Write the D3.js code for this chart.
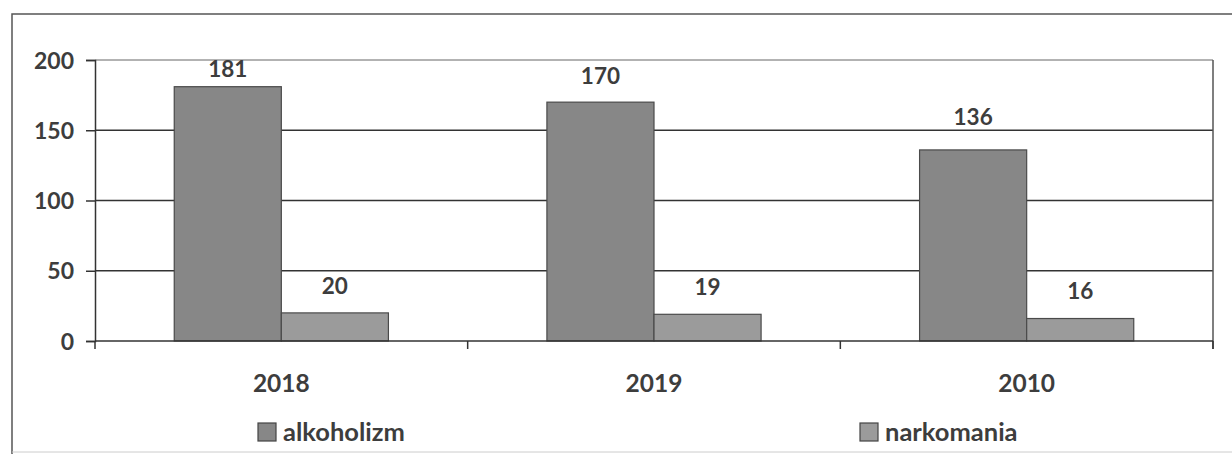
<!DOCTYPE html>
<html>
<head>
<meta charset="utf-8">
<script src="https://cdn.jsdelivr.net/npm/d3@7"></script>
<style>
  body { margin: 0; background: #fff; }
  text { font-family: Lato, "Open Sans", sans-serif; font-weight: bold; fill: #3d3d3d; }
</style>
</head>
<body>
<div id="chart"></div>
<script>
const years = ["2018", "2019", "2010"]
const series = ["alkoholizm", "narkomania"]
const alkoholizm = [181, 170, 136]
const narkomania = [20, 19, 16]
const yTicks = [0, 50, 100, 150, 200]

const width = 1232
const height = 454
const plot = { left: 95, right: 1213, top: 60, bottom: 341 }

const svg = d3.select("#chart").append("svg")
  .attr("width", width)
  .attr("height", height)

// outer frame (scan shows only top, left and a faint bottom)
svg.append("path")
  .attr("d", `M12,${height} L12,14 L${width},14`)
  .attr("fill", "none").attr("stroke", "#555").attr("stroke-width", 1.5)
svg.append("line")
  .attr("x1", 12).attr("x2", width).attr("y1", 452).attr("y2", 452)
  .attr("stroke", "#ccc").attr("stroke-width", 1)

const x0 = d3.scaleBand().domain(years).range([plot.left, plot.right])
const x1 = d3.scaleBand().domain(series).range([0, x0.bandwidth()]).paddingInner(0).paddingOuter(0.74)
const y = d3.scaleLinear().domain([0, 200]).range([plot.bottom, plot.top])

const colors = { alkoholizm: "#878787", narkomania: "#9b9b9b" }
const values = { alkoholizm, narkomania }

// gridlines
svg.append("g").selectAll("line")
  .data(yTicks.filter(d => d > 0))
  .join("line")
  .attr("x1", plot.left).attr("x2", plot.right)
  .attr("y1", d => y(d)).attr("y2", d => y(d))
  .attr("stroke", d => d === 200 ? "#666" : "#333")
  .attr("stroke-width", d => d === 200 ? 1 : 1.5)

// right edge of plot area
svg.append("line")
  .attr("x1", plot.right).attr("x2", plot.right)
  .attr("y1", plot.top).attr("y2", plot.bottom + 8)
  .attr("stroke", "#555").attr("stroke-width", 1.5)

// bars
const rows = years.map((yr, i) => series.map(s => ({ year: yr, key: s, value: values[s][i] })))
const group = svg.append("g").selectAll("g")
  .data(rows)
  .join("g")
  .attr("transform", (d, i) => `translate(${x0(years[i])},0)`)

group.selectAll("rect")
  .data(d => d)
  .join("rect")
  .attr("x", d => x1(d.key))
  .attr("width", x1.bandwidth())
  .attr("y", d => y(d.value))
  .attr("height", d => y(0) - y(d.value))
  .attr("fill", d => colors[d.key])
  .attr("stroke", "#4a4a4a")
  .attr("stroke-width", 1.2)

// data labels (hand placed in the original, so the gap above each bar varies)
const labelGap = { alkoholizm: [10, 18, 25], narkomania: [19, 19, 20] }
group.selectAll("text")
  .data(d => d)
  .join("text")
  .attr("x", d => x1(d.key) + x1.bandwidth() / 2)
  .attr("y", d => y(d.value) - labelGap[d.key][years.indexOf(d.year)])
  .attr("text-anchor", "middle")
  .attr("font-size", 22.5)
  .text(d => d.value)

// y axis
const yAxis = svg.append("g")
  .attr("transform", `translate(${plot.left},0)`)
  .call(d3.axisLeft(y).tickValues(yTicks).tickSize(9).tickPadding(12))
yAxis.select(".domain").attr("stroke", "#333").attr("stroke-width", 1.5)
yAxis.selectAll(".tick line").attr("stroke", "#333").attr("stroke-width", 1.5)
yAxis.selectAll(".tick text").attr("font-size", 23).attr("fill", "#3d3d3d").attr("font-family", null).attr("dy", "0.35em")

// x axis: ticks at category boundaries
const xAxis = svg.append("g")
  .attr("transform", `translate(0,${plot.bottom})`)
xAxis.append("line")
  .attr("x1", plot.left).attr("x2", plot.right)
  .attr("stroke", "#333").attr("stroke-width", 1.5)
const bounds = years.map(d => x0(d)).concat([plot.right])
xAxis.selectAll(".bnd")
  .data(bounds)
  .join("line")
  .attr("class", "bnd")
  .attr("x1", d => d).attr("x2", d => d)
  .attr("y1", 0).attr("y2", 8)
  .attr("stroke", "#333").attr("stroke-width", 1.5)
xAxis.selectAll("text")
  .data(years)
  .join("text")
  .attr("x", d => x0(d) + x0.bandwidth() / 2)
  .attr("y", 51)
  .attr("text-anchor", "middle")
  .attr("font-size", 24.5)
  .text(d => d)

// legend
const legendX = [258, 860]
const legend = svg.append("g").selectAll("g")
  .data(series)
  .join("g")
  .attr("transform", (d, i) => `translate(${legendX[i]},423)`)
legend.append("rect")
  .attr("width", 18).attr("height", 18)
  .attr("fill", d => colors[d])
  .attr("stroke", "#444").attr("stroke-width", 1.2)
legend.append("text")
  .attr("x", 25).attr("y", 18)
  .attr("font-size", 25.5)
  .text(d => d)
</script>
</body>
</html>
